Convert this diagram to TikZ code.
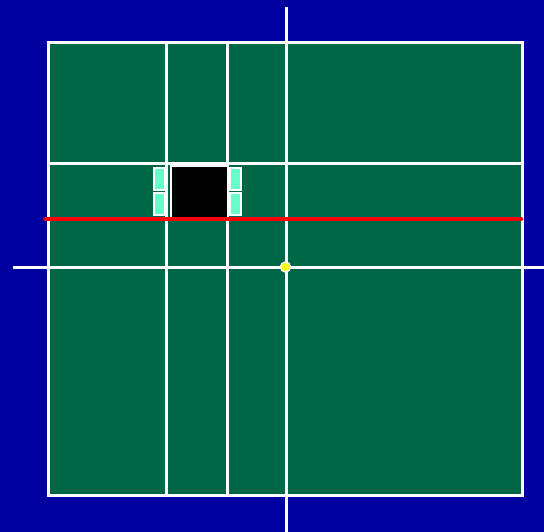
\documentclass[tikz,border=0pt]{standalone}
\definecolor{navy}{RGB}{0,0,160}
\definecolor{field}{RGB}{0,102,72}
\definecolor{aqua}{RGB}{102,255,204}
\definecolor{redline}{RGB}{255,0,0}
\definecolor{dot}{RGB}{255,255,0}
\tikzset{
  grid line/.style={draw=white, line width=3pt},
  pad/.style={draw=white, fill=aqua, line width=2pt, rectangle, inner sep=0pt, minimum width=10.5pt, minimum height=22.5pt},
}
\begin{document}
\begin{tikzpicture}[x=1pt,y=-1pt]
\fill[navy] (0,0) rectangle (544,532);
\useasboundingbox (0,0) rectangle (544,532);
% field
\node[grid line, fill=field, rectangle, inner sep=0pt, minimum width=474pt, minimum height=453pt, anchor=north west] (field) at (47,41) {};
% coordinates
\coordinate (v1t) at (166.5,41); \coordinate (v1b) at (166.5,494);
\coordinate (v2t) at (227,41); \coordinate (v2b) at (227,494);
\coordinate (axt) at (286,7); \coordinate (axb) at (286,532);
\coordinate (h1l) at (47,164); \coordinate (h1r) at (521,164);
\coordinate (axl) at (13,267); \coordinate (axr) at (544,267);
\draw[grid line] (v1t) -- (v1b);
\draw[grid line] (v2t) -- (v2b);
\draw[grid line] (h1l) -- (h1r);
\draw[grid line] (axl) -- (axr);
\draw[grid line] (axt) -- (axb);
% black box
\node[draw=white, fill=black, line width=2pt, rectangle, inner sep=0pt, minimum width=57pt, minimum height=53pt, anchor=north west] (box) at (169.5,165) {};
% pads
\node[pad, anchor=north west] (pl1) at (153,166.8) {};
\node[pad, anchor=north west] (pl2) at (153,191.8) {};
\node[pad, anchor=north west] (pr1) at (229.3,166.8) {};
\node[pad, anchor=north west] (pr2) at (229.3,191.8) {};
% red line
\coordinate (rl) at (45.5,219); \coordinate (rr) at (521,219);
\draw[redline, line width=4.5pt, line cap=round] (rl) -- (rr);
% origin dot
\node[circle, fill=dot, draw=white, line width=1.5pt, inner sep=0pt, minimum size=10pt] (origin) at (285.5,267) {};
\end{tikzpicture}
\end{document}
